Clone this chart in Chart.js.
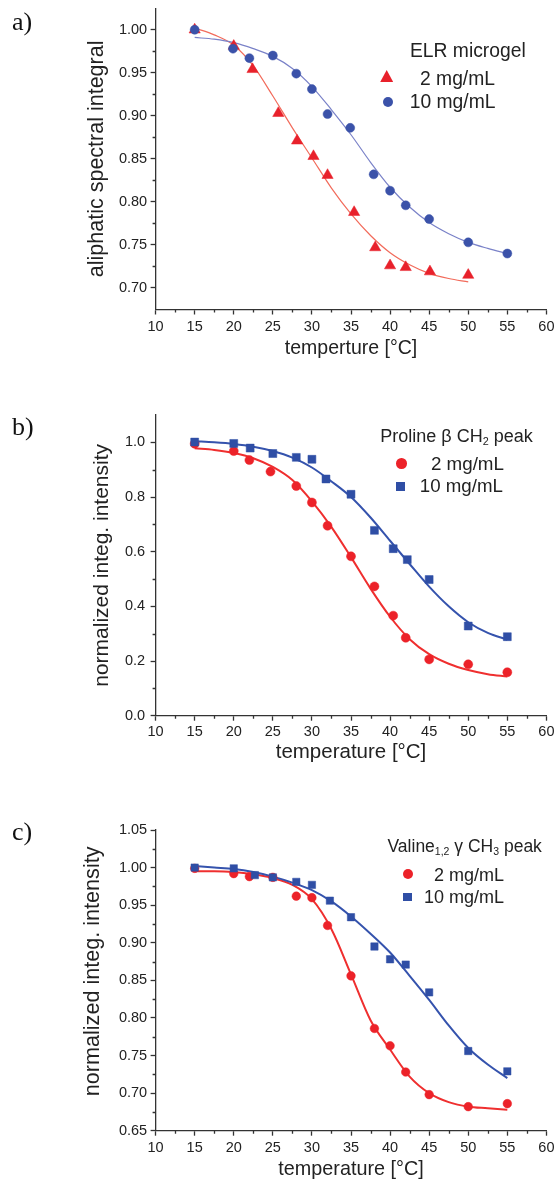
<!DOCTYPE html>
<html><head><meta charset="utf-8">
<script src="https://cdn.jsdelivr.net/npm/chart.js@4.4.1/dist/chart.umd.min.js"></script>
<style>
html,body{margin:0;padding:0;background:#fff;width:557px;height:1180px;overflow:hidden;position:relative;font-family:"Liberation Sans",Arial,sans-serif;color:#222}
canvas{position:absolute;left:0}
.t{position:absolute;white-space:nowrap;line-height:1;color:#222}
.t sub{font-size:0.6em;vertical-align:-0.3em;line-height:0}
.lbl{position:absolute;font-family:"Liberation Serif","Times New Roman",serif;font-size:26px;line-height:1;color:#111}
.mk{position:absolute}
</style></head><body>
<canvas id="ca" width="557" height="395" style="top:0px"></canvas>
<canvas id="cb" width="557" height="400" style="top:380px"></canvas>
<canvas id="cc" width="557" height="400" style="top:780px"></canvas>

<div class="lbl" style="left:12px;top:8.5px">a)</div>
<div class="lbl" style="left:12px;top:413.5px">b)</div>
<div class="lbl" style="left:12px;top:818.5px">c)</div>

<!-- legend a -->
<div class="t" style="left:410px;top:41.4px;font-size:19.3px">ELR microgel</div>
<div class="mk" style="left:380.2px;top:70px;width:13px;height:12px;background:#e8212b;clip-path:polygon(50% 0,100% 100%,0 100%)"></div>
<div class="t" style="left:420px;top:68.7px;font-size:19.3px">2 mg/mL</div>
<div class="mk" style="left:383px;top:97px;width:10px;height:10px;border-radius:50%;background:#3b52a9"></div>
<div class="t" style="left:409.7px;top:92.2px;font-size:19.3px">10 mg/mL</div>

<!-- legend b -->
<div class="t" style="left:380.3px;top:427.2px;font-size:18px">Proline β CH<sub>2</sub> peak</div>
<div class="mk" style="left:396px;top:458.4px;width:10.7px;height:10.7px;border-radius:50%;background:#ec2229"></div>
<div class="t" style="left:430.9px;top:455.1px;font-size:18.8px">2 mg/mL</div>
<div class="mk" style="left:396px;top:481.5px;width:9px;height:9px;background:#2f4ea5"></div>
<div class="t" style="left:419.8px;top:476.8px;font-size:18.7px">10 mg/mL</div>

<!-- legend c -->
<div class="t" style="left:387.5px;top:838.4px;font-size:17.5px">Valine<sub>1,2</sub> γ CH<sub>3</sub> peak</div>
<div class="mk" style="left:403.3px;top:869.3px;width:10px;height:10px;border-radius:50%;background:#ec2229"></div>
<div class="t" style="left:434px;top:866.2px;font-size:18px">2 mg/mL</div>
<div class="mk" style="left:403.4px;top:892.7px;width:8.3px;height:8.3px;background:#2f4ea5"></div>
<div class="t" style="left:424px;top:888.2px;font-size:18px">10 mg/mL</div>

<script>
// ---------- shared axis ticks ----------
const xTicks = [10, 15, 20, 25, 30, 35, 40, 45, 50, 55, 60];
const xMinor = [12.5, 17.5, 22.5, 27.5, 32.5, 37.5, 42.5, 47.5, 52.5, 57.5];

// ---------- panel a ----------
const aYTicks = [0.70, 0.75, 0.80, 0.85, 0.90, 0.95, 1.00];
const aYMinor = [0.725, 0.775, 0.825, 0.875, 0.925, 0.975];
const aRedT = [15, 20, 22.4, 25.7, 28.1, 30.2, 32.0, 35.4, 38.1, 40.0, 42.0, 45.1, 50.0];
const aRedV = [1.000, 0.981, 0.954, 0.903, 0.871, 0.853, 0.831, 0.788, 0.747, 0.726, 0.724, 0.719, 0.715];
const aBlueT = [15, 19.9, 22.0, 25.0, 28.0, 30.0, 32.0, 34.9, 37.9, 40.0, 42.0, 45.0, 50.0, 55.0];
const aBlueV = [1.000, 0.978, 0.967, 0.970, 0.949, 0.931, 0.902, 0.886, 0.832, 0.813, 0.796, 0.780, 0.753, 0.740];
const aRedFitT = [15, 17.5, 20, 22.5, 25, 27.5, 30, 32.5, 35, 37.5, 40, 42.5, 45, 47.5, 50];
const aRedFitV = [1.002, 0.994, 0.982, 0.958, 0.923, 0.886, 0.851, 0.816, 0.786, 0.761, 0.741, 0.727, 0.717, 0.711, 0.707];
const aBlueFitT = [15, 17.5, 20, 22.5, 25, 27.5, 30, 32.5, 35, 37.5, 40, 42.5, 45, 47.5, 50, 52.5, 55];
const aBlueFitV = [0.991, 0.989, 0.985, 0.978, 0.969, 0.955, 0.934, 0.907, 0.878, 0.846, 0.817, 0.794, 0.776, 0.763, 0.753, 0.746, 0.740];

// ---------- panel b ----------
const bYTicks = [0.0, 0.2, 0.4, 0.6, 0.8, 1.0];
const bYMinor = [0.1, 0.3, 0.5, 0.7, 0.9];
const bRedT = [15, 20, 22, 24.7, 28, 30, 32, 35, 38, 40.4, 42, 45, 50, 55];
const bRedV = [0.995, 0.968, 0.935, 0.893, 0.840, 0.780, 0.695, 0.583, 0.473, 0.366, 0.285, 0.206, 0.188, 0.159];
const bBlueT = [15, 20, 22.1, 25, 28, 30, 31.8, 35, 38, 40.4, 42.2, 45, 50, 55];
const bBlueV = [1.001, 0.996, 0.979, 0.959, 0.945, 0.938, 0.866, 0.810, 0.678, 0.611, 0.571, 0.498, 0.328, 0.289];
const bFitT = [15, 17.5, 20, 22.5, 25, 27.5, 30, 32.5, 35, 37.5, 40, 42.5, 45, 47.5, 50, 52.5, 55];
const bRedFitV = [0.978, 0.972, 0.961, 0.942, 0.910, 0.862, 0.784, 0.690, 0.580, 0.465, 0.362, 0.280, 0.225, 0.190, 0.167, 0.152, 0.143];
const bBlueFitV = [1.004, 1.000, 0.994, 0.984, 0.968, 0.944, 0.908, 0.857, 0.800, 0.725, 0.640, 0.555, 0.472, 0.400, 0.342, 0.303, 0.278];

// ---------- panel c ----------
const cYTicks = [0.65, 0.70, 0.75, 0.80, 0.85, 0.90, 0.95, 1.00, 1.05];
const cYMinor = [0.675, 0.725, 0.775, 0.825, 0.875, 0.925, 0.975, 1.025];
const cRedT = [15, 20, 22, 25, 28, 30, 32, 35, 38, 40, 42, 45, 50, 55];
const cRedV = [0.999, 0.992, 0.988, 0.987, 0.962, 0.960, 0.923, 0.856, 0.786, 0.763, 0.728, 0.698, 0.682, 0.686];
const cBlueT = [15, 20, 22.7, 25, 28, 30, 32.3, 35, 38, 40, 42, 45, 50, 55];
const cBlueV = [1.000, 0.999, 0.990, 0.987, 0.981, 0.977, 0.956, 0.934, 0.895, 0.878, 0.871, 0.834, 0.756, 0.729];
const cFitT = [15, 17.5, 20, 22.5, 25, 27.5, 30, 32.5, 35, 37.5, 40, 42.5, 45, 47.5, 50, 52.5, 55];
const cRedFitV = [0.995, 0.995, 0.994, 0.991, 0.986, 0.977, 0.958, 0.918, 0.858, 0.797, 0.758, 0.722, 0.700, 0.688, 0.682, 0.680, 0.678];
const cBlueFitV = [1.002, 1.000, 0.998, 0.994, 0.988, 0.980, 0.970, 0.955, 0.935, 0.912, 0.887, 0.856, 0.824, 0.790, 0.760, 0.738, 0.720];

const FONT = '"Liberation Sans", Arial, sans-serif';
const pts = (xs, ys) => xs.map((x, i) => ({x: x, y: ys[i]}));

const minorTicks = {
  id: 'minorTicks',
  afterDraw(chart, args, opts) {
    const ctx = chart.ctx, a = chart.chartArea, sx = chart.scales.x, sy = chart.scales.y;
    ctx.save();
    ctx.strokeStyle = '#333'; ctx.lineWidth = 1.3;
    ctx.beginPath();
    opts.x.forEach(v => { const p = Math.round(sx.getPixelForValue(v)) + 0.5; ctx.moveTo(p, a.bottom); ctx.lineTo(p, a.bottom + 3); });
    opts.y.forEach(v => { const p = Math.round(sy.getPixelForValue(v)) + 0.5; ctx.moveTo(a.left, p); ctx.lineTo(a.left - 3, p); });
    ctx.stroke();
    ctx.restore();
  }
};

function pointSet(data, style, r, color) {
  return { data: data, showLine: false, pointStyle: style, pointRadius: r, pointHoverRadius: r,
           pointBackgroundColor: color, pointBorderColor: color, pointBorderWidth: 0.5 };
}
function lineSet(data, color, w) {
  return { data: data, showLine: true, pointRadius: 0, pointHoverRadius: 0, borderColor: color,
           borderWidth: w, fill: false, cubicInterpolationMode: 'monotone' };
}

function panel(id, P) {
  new Chart(document.getElementById(id), {
    type: 'scatter',
    data: { datasets: P.datasets },
    options: {
      responsive: false, animation: false, events: [],
      layout: { padding: { left: 0, right: 557 - 546.4, top: P.top, bottom: 0 } },
      plugins: { legend: { display: false }, tooltip: { enabled: false },
                 minorTicks: { x: xMinor, y: P.yMinor } },
      scales: {
        x: {
          type: 'linear', min: 10, max: 60,
          afterBuildTicks: s => { s.ticks = xTicks.map(v => ({value: v})); },
          afterFit: s => { s.height = P.H - P.bottom; s.paddingLeft = 0; s.paddingRight = 0; },
          ticks: { autoSkip: false, maxRotation: 0, font: { family: FONT, size: 14.5 }, color: '#222',
                   padding: P.xPad, callback: v => String(v) },
          grid: { drawOnChartArea: false, drawTicks: true, tickLength: 5, tickColor: '#333', tickWidth: 1.3 },
          border: { display: true, color: '#333', width: 1.3 },
          title: { display: true, text: P.xTitle, color: '#222', font: { family: FONT, size: P.xFs },
                   padding: { top: 0, bottom: P.xTitlePad } }
        },
        y: {
          type: 'linear', min: P.ymin, max: P.ymax,
          afterBuildTicks: s => { s.ticks = P.yTicks.map(v => ({value: v})); },
          afterFit: s => { s.width = 155.6; s.paddingTop = 0; s.paddingBottom = 0; },
          ticks: { autoSkip: false, font: { family: FONT, size: 14.5 }, color: '#222',
                   padding: P.yPad, callback: v => v.toFixed(P.dec) },
          grid: { drawOnChartArea: false, drawTicks: true, tickLength: 5, tickColor: '#333', tickWidth: 1.3 },
          border: { display: true, color: '#333', width: 1.3 },
          title: { display: true, text: P.yTitle, color: '#222', font: { family: FONT, size: P.yFs },
                   padding: { top: P.yTitlePad, bottom: 0 } }
        }
      }
    },
    plugins: [minorTicks]
  });
}

panel('ca', {
  H: 395, top: 8.2, bottom: 309.5, ymin: 0.675, ymax: 1.025, yTicks: aYTicks, yMinor: aYMinor, dec: 2,
  xPad: 3.3, yPad: 3.5, xTitle: 'temperture [°C]', xFs: 19.5, xTitlePad: 34.3,
  yTitle: 'aliphatic spectral integral', yFs: 21.5, yTitlePad: 83.9,
  datasets: [
    pointSet(pts(aBlueT, aBlueV), 'circle', 4.5, '#3b52a9'),
    pointSet(pts(aRedT, aRedV), 'triangle', 6.5, '#e8212b'),
    lineSet(pts(aBlueFitT, aBlueFitV), '#7a82c8', 1.2),
    lineSet(pts(aRedFitT, aRedFitV), '#f26b5b', 1.2)
  ]
});

panel('cb', {
  H: 400, top: 35, bottom: 335.7, ymin: 0, ymax: 1.1, yTicks: bYTicks, yMinor: bYMinor, dec: 1,
  xPad: 2.3, yPad: 5.5, xTitle: 'temperature [°C]', xFs: 20.5, xTitlePad: 15.2,
  yTitle: 'normalized integ. intensity', yFs: 21, yTitlePad: 89.9,
  datasets: [
    pointSet(pts(bBlueT, bBlueV), 'rect', 5.6, '#2f4ea5'),
    pointSet(pts(bRedT, bRedV), 'circle', 4.5, '#ec2229'),
    lineSet(pts(bFitT, bBlueFitV), '#3553ad', 2),
    lineSet(pts(bFitT, bRedFitV), '#ef2f2f', 2)
  ]
});

panel('cc', {
  H: 400, top: 50, bottom: 350.7, ymin: 0.65, ymax: 1.05, yTicks: cYTicks, yMinor: cYMinor, dec: 2,
  xPad: 3.9, yPad: 3.5, xTitle: 'temperature [°C]', xFs: 19.8, xTitlePad: -1,
  yTitle: '   normalized integ. intensity', yFs: 21.6, yTitlePad: 80.2,
  datasets: [
    pointSet(pts(cBlueT, cBlueV), 'rect', 5.2, '#2f4ea5'),
    pointSet(pts(cRedT, cRedV), 'circle', 4.3, '#ec2229'),
    lineSet(pts(cFitT, cBlueFitV), '#3553ad', 2),
    lineSet(pts(cFitT, cRedFitV), '#ef2f2f', 2)
  ]
});
</script>
</body></html>
